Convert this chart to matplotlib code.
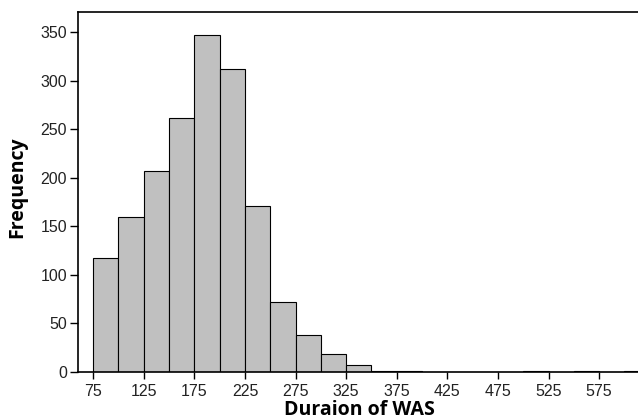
import matplotlib
matplotlib.use("Agg")
import matplotlib.pyplot as plt
import numpy as np

bin_edges = list(range(75, 651, 25))
counts = [117, 160, 207, 261, 347, 312, 171, 72, 38, 19, 7, 1, 1, 0, 0, 0, 0, 1, 0, 1, 0, 1, 0]
xticks = [75, 125, 175, 225, 275, 325, 375, 425, 475, 525, 575]
yticks = [0, 50, 100, 150, 200, 250, 300, 350]

W, H = 638, 420
fig = plt.figure(figsize=(W / 100, H / 100), dpi=100)
left_px, right_px, top_px, bottom_px = 78, 650, 12, 372
ax = fig.add_axes([left_px / W, (H - bottom_px) / H, (right_px - left_px) / W, (bottom_px - top_px) / H])

edges = np.array(bin_edges)
ax.bar(edges[:-1], counts, width=np.diff(edges), align="edge",
       color="#c0c0c0", edgecolor="black", linewidth=0.8)

ax.set_xlim(60, 60 + (right_px - left_px) / 1.012)
ax.set_ylim(0, 370.5)
ax.set_xticks(xticks)
ax.set_yticks(yticks)
for lab in ax.get_xticklabels() + ax.get_yticklabels():
    lab.set_fontfamily("Liberation Sans")
    lab.set_fontsize(11.5)
    lab.set_color("#222222")
ax.tick_params(axis="x", direction="out", length=5, width=1, pad=4)
ax.tick_params(axis="y", direction="out", length=6, width=1, pad=2)
for s in ax.spines.values():
    s.set_linewidth(1.2)

ax.set_xlabel("Duraion of WAS", fontfamily="Open Sans", fontweight="bold", fontsize=14)
ax.set_ylabel("Frequency", fontfamily="Open Sans", fontweight="bold", fontsize=14)
ax.xaxis.set_label_coords((359 - left_px) / (right_px - left_px), -(400 - bottom_px) / (bottom_px - top_px))
ax.yaxis.set_label_coords(-(78 - 27) / (right_px - left_px), (372 - 187) / (bottom_px - top_px))

fig.savefig("out.png", dpi=100)
